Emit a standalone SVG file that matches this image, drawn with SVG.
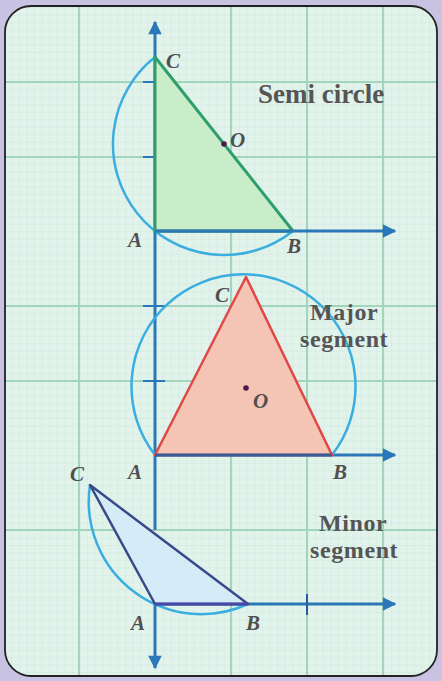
<svg xmlns="http://www.w3.org/2000/svg" width="442" height="681" viewBox="0 0 442 681">
<defs>
<pattern id="minor" x="3.5" y="7.2" width="7.6" height="7.47" patternUnits="userSpaceOnUse">
<path d="M0,0 V7.47 M0,0 H7.6" fill="none" stroke="#c9e4d8" stroke-width="0.8"/>
</pattern>
<marker id="ar" viewBox="0 0 10 10" refX="9" refY="5" markerWidth="5" markerHeight="4.5" orient="auto" markerUnits="strokeWidth">
<path d="M0,0 L10,5 L0,10 z" fill="#2a78b8"/>
</marker>
<clipPath id="panel"><rect x="5" y="6" width="432" height="670" rx="26"/></clipPath>
</defs>
<style>
.major{stroke:#a2d5bc;stroke-width:2;fill:none}
.axis{stroke:#2a78b8;stroke-width:3;fill:none}
.tick{stroke:#2a78b8;stroke-width:2;fill:none}
.circ{stroke:#3aaee0;stroke-width:2.5;fill:none}
.lbl{font-family:"Liberation Serif",serif;font-style:italic;font-weight:bold;font-size:21px;fill:#505050}
.txt{font-family:"Liberation Serif",serif;font-weight:bold;font-size:27px;fill:#555}
.txt2{font-family:"Liberation Serif",serif;font-weight:bold;font-size:24px;letter-spacing:0.6px;fill:#555}
.dot{fill:#4a1a4a}
</style>
<rect width="442" height="681" fill="#c8c3e3"/>
<g id="panel-bg" clip-path="url(#panel)">
<rect x="5" y="6" width="432" height="670" fill="#e2f3ec"/>
<rect x="5" y="6" width="432" height="670" fill="url(#minor)"/>
<path class="major" d="M79,6V676 M231,6V676 M307,6V676 M383,6V676 M5,82H437 M5,157H437 M5,306H437 M5,381H437 M5,530H437"/>
</g>
<rect x="5" y="6" width="432" height="670" rx="26" fill="none" stroke="#222" stroke-width="1.8"/>

<g id="connectors">
<path class="axis" d="M155,604V668" marker-end="url(#ar)"/>
<path class="axis" d="M155,530V22" marker-end="url(#ar)"/>
<path class="axis" d="M155,231H395" marker-end="url(#ar)"/>
<path class="axis" d="M155,455H395" marker-end="url(#ar)"/>
<path class="axis" d="M155,604H395" marker-end="url(#ar)"/>
<path class="tick" d="M143,82H155 M143,157H155 M143,306H165 M143,381H165"/>
<path d="M307,594V615" stroke="#2a5aa0" stroke-width="2"/>
</g>

<g id="semi-circle">
<path d="M155,57 A111,111 0 0,0 293,231" class="circ"/>
<path d="M155,57 L155,231 L293,231 Z" fill="#c9ecc9" stroke="#2f9e6c" stroke-width="3" stroke-linejoin="round"/>
<path d="M155,231H293" stroke="#2a78b8" stroke-width="3"/>
<circle class="dot" cx="224" cy="144" r="2.8"/>
<text class="lbl" x="166" y="68">C</text>
<text class="lbl" x="128" y="247">A</text>
<text class="lbl" x="287" y="253">B</text>
<text class="lbl" x="230" y="147">O</text>
<text class="txt" x="258" y="103">Semi circle</text>
</g>

<g id="major-segment">
<path d="M155,455 A112,112 0 1,1 332,455" class="circ"/>
<path d="M155,455 L246,277 L332,455 Z" fill="#f4c4b4" stroke="#e04848" stroke-width="2.5" stroke-linejoin="round"/>
<path d="M155,455H332" stroke="#3a5a9a" stroke-width="3"/>
<circle class="dot" cx="246" cy="388" r="2.8"/>
<text class="lbl" x="215" y="302">C</text>
<text class="lbl" x="128" y="479">A</text>
<text class="lbl" x="333" y="479">B</text>
<text class="lbl" x="253" y="408">O</text>
<text class="txt2" x="310" y="320">Major</text>
<text class="txt2" x="300" y="347">segment</text>
</g>

<g id="minor-segment">
<path d="M90,485 A112.6,112.6 0 0,0 248,604" class="circ"/>
<path d="M90,485 L155,604 L248,604 Z" fill="#d3ecf8" stroke="#3a4a88" stroke-width="2.5" stroke-linejoin="round"/>
<path d="M155,604H248" stroke="#4848a8" stroke-width="3"/>
<text class="lbl" x="70" y="481">C</text>
<text class="lbl" x="131" y="630">A</text>
<text class="lbl" x="246" y="630">B</text>
<text class="txt2" x="319" y="531">Minor</text>
<text class="txt2" x="310" y="558">segment</text>
</g>
</svg>
